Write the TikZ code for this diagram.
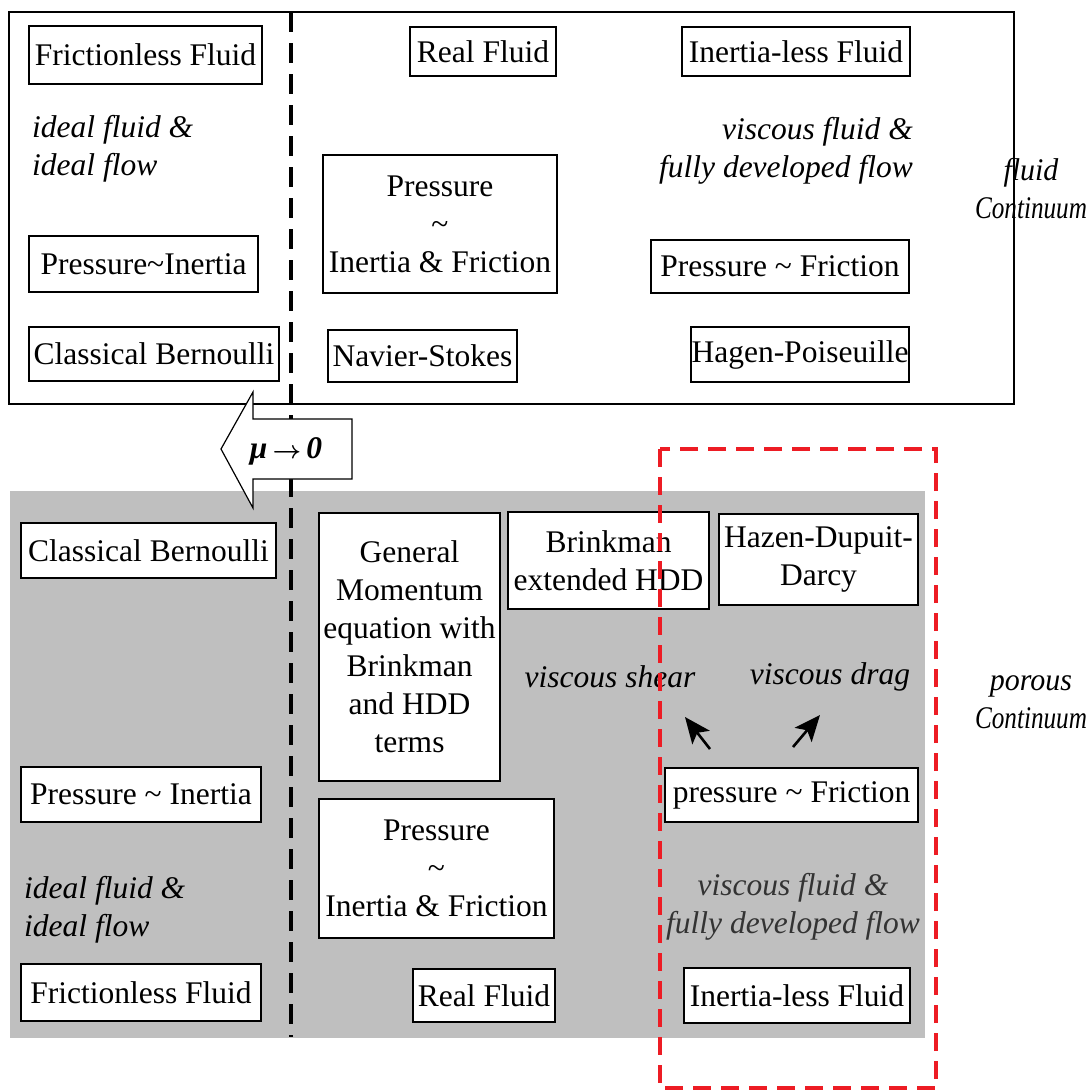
\documentclass[tikz,border=0pt]{standalone}
\usepackage{fontspec}
\setmainfont{Liberation Serif}
\usetikzlibrary{arrows.meta}
\definecolor{greybg}{RGB}{191,191,191}
\definecolor{redd}{RGB}{237,28,36}
\newcommand{\narrow}[2]{{\addfontfeature{FakeStretch=#1}#2}}
\begin{document}
\begin{tikzpicture}[x=1pt,y=-1pt,
  font=\fontsize{31.5}{38}\selectfont,
  bx/.style={draw=black,line width=1.2pt,fill=white,inner sep=0pt,align=center},
  lbl/.style={inner sep=0pt,font=\fontsize{31.5}{38}\selectfont\itshape},
  frame/.style={draw=black,line width=1.2pt},
  divider/.style={draw=black,line width=4pt,dash pattern=on 20pt off 11pt},
  zone/.style={draw=redd,line width=4pt,dash pattern=on 18pt off 10pt},
  blockarrow/.style={draw=black,line width=1.2pt,fill=white},
  smallarrow/.style={draw=black,line width=2.6pt,-{Stealth[length=26pt,width=22pt,inset=6pt]}}]
\useasboundingbox (0,0) rectangle (1092,1090);
% backgrounds
\fill[greybg] (10,491) rectangle (925,1038);
\draw[frame] (9,12) rectangle (1014,404);
% divider
\coordinate (dtop) at (291,12);
\coordinate (dbot) at (291,1037);
\draw[divider] (dtop) -- (dbot);
% top region
\node[bx,minimum width=233pt,minimum height=58pt] (ff1) at (145.5,55) {Frictionless Fluid};
\node[lbl,anchor=west,align=left] (ideal1) at (32,148.5) {ideal fluid \&\\ideal flow};
\node[bx,minimum width=229pt,minimum height=56pt] (pi1) at (143.5,264) {Pressure\textasciitilde Inertia};
\node[bx,minimum width=250pt,minimum height=54pt] (cb1) at (154,354) {Classical Bernoulli};
\node[bx,minimum width=146pt,minimum height=49pt] (rf1) at (483,51.5) {Real Fluid};
\node[bx,minimum width=228pt,minimum height=49pt] (il1) at (796,51.5) {Inertia-less Fluid};
\node[lbl,anchor=east,align=right] (visc1) at (913,151) {viscous fluid \&\\fully developed flow};
\node[lbl,align=center] (fc1) at (1031,189) {\narrow{0.95}{fluid}\\\narrow{0.8}{Continuum}};
\node[bx,minimum width=234pt,minimum height=138pt] (pif1) at (440,224) {Pressure\\\textasciitilde\\Inertia \& Friction};
\node[bx,minimum width=258pt,minimum height=53pt] (pf1) at (780,266.5) {Pressure \textasciitilde{} Friction};
\node[bx,minimum width=189pt,minimum height=52pt] (ns1) at (422.5,356) {Navier-Stokes};
\node[bx,minimum width=218pt,minimum height=55pt] (hp1) at (800,354.5) {Hagen-Poiseuille};
% block arrow mu -> 0
\draw[blockarrow] (221,449) -- (253,392) -- (253,419) -- (352,419) -- (352,479) -- (253,479) -- (253,508) -- cycle;
\node[inner sep=0pt,font=\fontsize{31.5}{38}\selectfont\bfseries\itshape] (mu) at (286,451) {μ\,{\boldmath$\rightarrow$}\,0};
% bottom region
\node[bx,minimum width=255pt,minimum height=55pt] (cb2) at (148.5,550.5) {Classical Bernoulli};
\node[bx,minimum width=181pt,minimum height=268pt] (gm) at (409.5,647) {General\\Momentum\\equation with\\Brinkman\\and HDD\\terms};
\node[bx,minimum width=201pt,minimum height=97pt] (bk) at (608.5,560.5) {Brinkman\\extended HDD};
\node[bx,minimum width=199pt,minimum height=91pt] (hdd) at (818.5,559.5) {Hazen-Dupuit-\\Darcy};
\node[lbl] (shear) at (610,677) {viscous shear};
\node[lbl] (drag) at (830,677) {viscous drag};
\coordinate (a1s) at (710,749);
\coordinate (a1e) at (685,717);
\coordinate (a2s) at (793,747);
\coordinate (a2e) at (820,715);
\draw[smallarrow] (a1s) -- (a1e);
\draw[smallarrow] (a2s) -- (a2e);
\node[bx,minimum width=253pt,minimum height=54pt] (pfr2) at (791.5,795) {pressure \textasciitilde{} Friction};
\node[bx,minimum width=240pt,minimum height=55pt] (pi2) at (141,794.5) {Pressure \textasciitilde{} Inertia};
\node[lbl,anchor=west,align=left] (ideal2) at (24,910) {ideal fluid \&\\ideal flow};
\node[bx,minimum width=235pt,minimum height=139pt] (pif2) at (436.5,868.5) {Pressure\\\textasciitilde\\Inertia \& Friction};
\node[lbl,align=center,text=black!80] (visc2) at (793,907) {viscous fluid \&\\fully developed flow};
\node[bx,minimum width=240pt,minimum height=57pt] (ff2) at (141,992.5) {Frictionless Fluid};
\node[bx,minimum width=142pt,minimum height=53pt] (rf2) at (484,995.5) {Real Fluid};
\node[bx,minimum width=226pt,minimum height=55pt] (il2) at (797,995.5) {Inertia-less Fluid};
\node[lbl,align=center] (pc2) at (1031,702) {\narrow{0.95}{porous}\\\narrow{0.8}{Continuum}};
% red zone
\draw[zone] (660,449) rectangle (936,1088);
\end{tikzpicture}
\end{document}
